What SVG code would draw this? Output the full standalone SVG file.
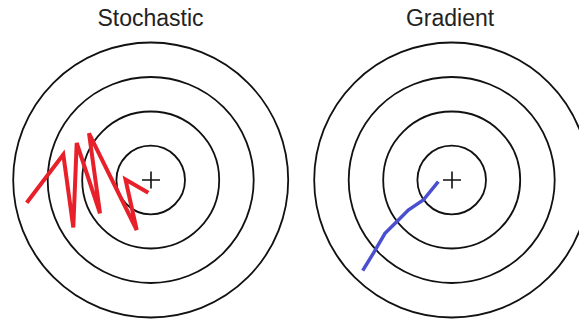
<svg xmlns="http://www.w3.org/2000/svg" width="579" height="325" viewBox="0 0 579 325">
<style>
.ring{fill:none;stroke:#111;stroke-width:1.8}
.plus{stroke:#111;stroke-width:1.6}
.title{font-family:"Liberation Sans",Arial,sans-serif;font-size:23px;fill:#222;text-anchor:middle}
.path{fill:none;stroke-linejoin:miter;stroke-linecap:butt}
</style>
<rect width="579" height="325" fill="#fff"/>
<g id="stochastic">
<text class="title" x="150.5" y="26">Stochastic</text>
<circle class="ring" cx="150.7" cy="180" r="137.5"/>
<circle class="ring" cx="150.7" cy="180" r="103"/>
<circle class="ring" cx="150.7" cy="180" r="68.5"/>
<circle class="ring" cx="150.7" cy="180" r="34.3"/>
<path class="plus" d="M142 180H160M151 171.5V188.5"/>
<path class="path" stroke="#e8202a" stroke-width="4" d="M26.7 202.7L63.3 154.5L73.3 227.5L76.7 143L100 213.3L89 133.3L136.7 230L125.5 179.5L148.3 192.7"/>
</g>
<g id="gradient">
<text class="title" x="450" y="26">Gradient</text>
<circle class="ring" cx="451.7" cy="180" r="137.5"/>
<circle class="ring" cx="451.7" cy="180" r="103"/>
<circle class="ring" cx="451.7" cy="180" r="68.5"/>
<circle class="ring" cx="451.7" cy="180" r="34.3"/>
<path class="plus" d="M443 180H461M452 171.5V188.5"/>
<path class="path" stroke="#4a4fd0" stroke-width="3.5" stroke-linecap="round" d="M362.7 270.7L373.3 253.3L385 233.3L396.7 221.7L408.3 210L423.3 200L438.3 181.7"/>
</g>
<g id="connectors"></g>
</svg>
